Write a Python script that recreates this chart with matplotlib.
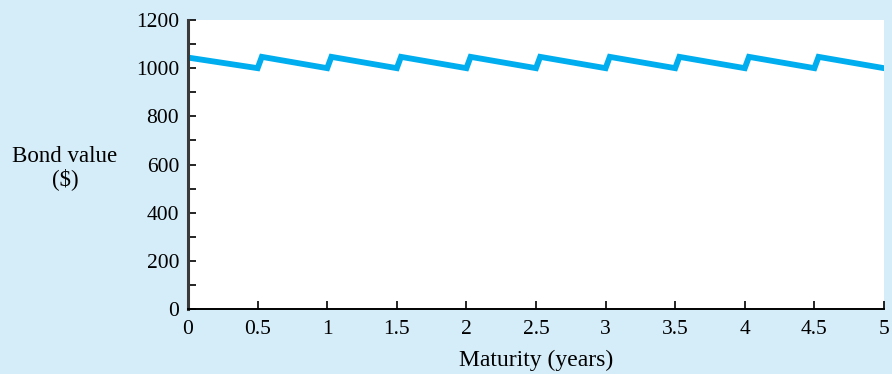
"""Bond value over time to maturity: sawtooth of accrued coupon."""

import matplotlib.pyplot as plt
from matplotlib.ticker import MultipleLocator

# maturity (years) and bond value ($)
maturity = [0, 0.5, 0.53, 1.0, 1.03, 1.5, 1.53, 2.0, 2.03, 2.5, 2.53,
            3.0, 3.03, 3.5, 3.53, 4.0, 4.03, 4.5, 4.53, 5.0]
bond_value = [1044, 1000, 1047, 1000, 1047, 1000, 1047, 1000, 1047, 1000, 1047,
              1000, 1047, 1000, 1047, 1000, 1047, 1000, 1047, 1000]

x_ticks = [0, 0.5, 1, 1.5, 2, 2.5, 3, 3.5, 4, 4.5, 5]
x_tick_labels = ["0", "0.5", "1", "1.5", "2", "2.5", "3", "3.5", "4", "4.5", "5"]
y_ticks = [0, 200, 400, 600, 800, 1000, 1200]

BG = "#d5edf9"
LINE = "#00aeef"
AXIS = "#3a3a3a"

plt.rcParams["font.family"] = ["Liberation Serif", "DejaVu Serif"]


def main():
    fig = plt.figure(figsize=(8.92, 3.74), dpi=100, facecolor=BG)
    ax = fig.add_axes([0.2108, 0.1738, 0.991 - 0.2108, 0.9465 - 0.1738])
    ax.set_facecolor("white")

    ax.plot(maturity, bond_value, color=LINE, linewidth=4.2, solid_joinstyle="miter")

    ax.set_xlim(0, 5)
    ax.set_ylim(0, 1200)
    ax.set_xticks(x_ticks)
    ax.set_xticklabels(x_tick_labels)
    ax.set_yticks(y_ticks)
    ax.yaxis.set_minor_locator(MultipleLocator(100))

    for side in ("top", "right"):
        ax.spines[side].set_visible(False)
    ax.spines["left"].set_color(AXIS)
    ax.spines["left"].set_linewidth(2.2)
    ax.spines["bottom"].set_color("black")
    ax.spines["bottom"].set_linewidth(1.4)

    ax.tick_params(axis="both", which="both", direction="in", length=6, width=1.2,
                   colors="black", labelsize=15.5)
    ax.tick_params(axis="x", which="major", pad=8)
    ax.tick_params(axis="y", which="major", pad=6.5)

    fig.text(65 / 892, 1 - 162 / 374, "Bond value", ha="center", va="baseline", fontsize=16.5)
    fig.text(65 / 892, 1 - 185 / 374, "($)", ha="center", va="baseline", fontsize=16.5)
    fig.text(536 / 892, 1 - 366 / 374, "Maturity (years)", ha="center", va="baseline",
             fontsize=17)

    fig.savefig("out.png", dpi=100, facecolor=BG)


if __name__ == "__main__":
    main()
